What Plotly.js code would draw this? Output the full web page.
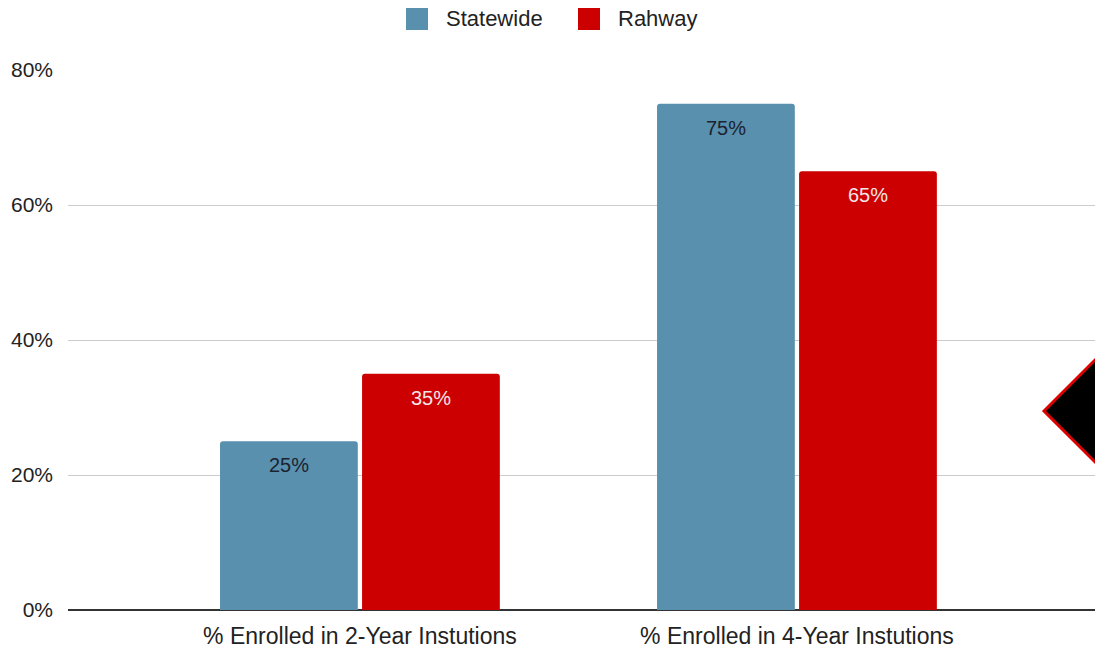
<!DOCTYPE html>
<html>
<head>
<meta charset="utf-8">
<script src="https://cdn.plot.ly/plotly-3.0.1.min.js"></script>
<style>html,body{margin:0;padding:0;background:#fff;}#chart{width:1095px;height:649px;}</style>
</head>
<body>
<div id="chart"></div>
<script>
const categories = ["% Enrolled in 2-Year Instutions", "% Enrolled in 4-Year Instutions"];
const statewide = [25, 75];
const rahway = [35, 65];
const seriesNames = ["Statewide", "Rahway"];
const yTickVals = [0, 20, 40, 60, 80];
const yTickText = ["0%", "20%", "40%", "60%", "80%"];

const colors = ["#5890ae", "#cc0000"];
const labelColors = ["#1c2230", "#f3e6e6"];
const FONT = "Liberation Sans, Arial, sans-serif";

const xs = categories.map((c, i) => i);
const series = [statewide, rahway];

const traces = series.map((vals, s) => ({
  type: "bar",
  name: seriesNames[s],
  x: xs,
  y: vals,
  marker: { color: colors[s], line: { width: 0 } },
  showlegend: false,
  hoverinfo: "skip"
}));

const offsets = [-0.1625, 0.1625];
const annotations = [];
series.forEach((vals, s) => {
  vals.forEach((v, i) => {
    annotations.push({
      xref: "x", yref: "y", x: i + offsets[s], y: v,
      text: v + "%", showarrow: false, yshift: -24, yanchor: "middle",
      font: { family: FONT, size: 20, color: labelColors[s] }
    });
  });
});

// custom legend
const pxX = px => (px - 68) / 1027;
const pxY = py => (610 - py) / 540;
const legendItems = [
  { sq: [406, 428], tx: 444 },
  { sq: [578, 600], tx: 616 }
];
const shapes = [];
legendItems.forEach((it, s) => {
  shapes.push({
    type: "rect", xref: "paper", yref: "paper",
    x0: pxX(it.sq[0]), x1: pxX(it.sq[1]), y0: pxY(30), y1: pxY(8),
    fillcolor: colors[s], line: { width: 0 }
  });
  annotations.push({
    xref: "paper", yref: "paper", x: pxX(it.tx), y: pxY(19),
    xanchor: "left", yanchor: "middle", showarrow: false,
    text: seriesNames[s], font: { family: FONT, size: 22, color: "#222" }
  });
});

// diamond overlay at right edge
shapes.push({
  type: "path", xref: "paper", yref: "paper",
  path: `M ${pxX(1044)},${pxY(411)} L ${pxX(1110)},${pxY(345)} L ${pxX(1176)},${pxY(411)} L ${pxX(1110)},${pxY(477)} Z`,
  fillcolor: "#000000", line: { color: "#dd0000", width: 3 }
});

const layout = {
  width: 1095, height: 649,
  margin: { l: 68, r: 0, t: 70, b: 39, pad: 0 },
  paper_bgcolor: "#ffffff", plot_bgcolor: "#ffffff",
  barmode: "group", bargap: 0.35, bargroupgap: 0.03,
  barcornerradius: 3,
  showlegend: false,
  xaxis: {
    range: [-0.668, 1.682],
    tickvals: xs, ticktext: categories,
    showgrid: false, zeroline: false, showline: false, ticks: "",
    ticklabelstandoff: 10,
    tickfont: { family: FONT, size: 23, color: "#222" },
    fixedrange: true
  },
  yaxis: {
    range: [0, 80],
    tickvals: yTickVals, ticktext: yTickText,
    showgrid: true, gridcolor: "#cccccc", gridwidth: 1,
    zeroline: true, zerolinecolor: "#333333", zerolinewidth: 1.5,
    showline: false, ticks: "",
    ticklabelstandoff: 14,
    tickfont: { family: FONT, size: 21, color: "#222" },
    fixedrange: true
  },
  annotations: annotations,
  shapes: shapes
};

Plotly.newPlot("chart", traces, layout, { staticPlot: true, displayModeBar: false });
</script>
</body>
</html>
